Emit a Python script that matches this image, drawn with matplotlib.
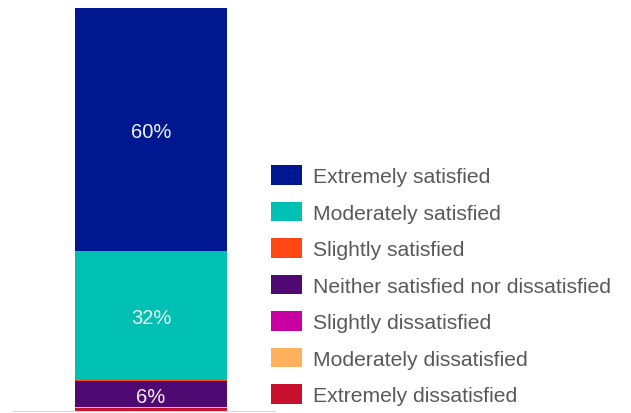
import matplotlib.pyplot as plt
from matplotlib.patches import Patch

plt.rcParams['font.family'] = ['Liberation Sans', 'DejaVu Sans']

# data, stacked from the bottom up
categories = ["Extremely dissatisfied", "Moderately dissatisfied", "Slightly dissatisfied",
              "Neither satisfied nor dissatisfied", "Slightly satisfied",
              "Moderately satisfied", "Extremely satisfied"]
values = [0.7, 0.3, 0.0, 6.4, 0.3, 32.0, 60.0]
labels = ["", "", "", "6%", "", "32%", "60%"]
colors = ["#C8102E", "#FFB25B", "#C800A1", "#4E0A72", "#FF4713", "#00BFB3", "#00188F"]

fig = plt.figure(figsize=(6.31, 4.14), dpi=100)
ax = fig.add_axes([13/631, 2/414, 262/631, 403/414])

bottom = 0
for cat, v, lab, c in zip(categories, values, labels, colors):
    ax.bar(0, v, width=0.58, bottom=bottom, color=c, linewidth=0)
    if lab:
        ax.text(0, bottom + v/2 - 0.5, lab, ha='center', va='center', color='#F2F2F2', fontsize=14.5)
    bottom += v

ax.set_xlim(-0.527, 0.473)
ax.set_ylim(0, 99.7)
for s in ['top', 'right', 'left']:
    ax.spines[s].set_visible(False)
ax.spines['bottom'].set_color('#D9D9D9')
ax.set_xticks([])
ax.set_yticks([])

# legend, top to bottom
handles = [Patch(facecolor=c, edgecolor='none') for c in colors[::-1]]
leg = fig.legend(handles, categories[::-1], loc='upper left', bbox_to_anchor=(271/631, 1 - 166/414),
                 frameon=False, fontsize=15.2, handlelength=1.47, handleheight=1.05,
                 labelspacing=0.735, handletextpad=0.52, borderaxespad=0, borderpad=0)
for t in leg.get_texts():
    t.set_color('#595959')

fig.savefig('out.png', dpi=100)
